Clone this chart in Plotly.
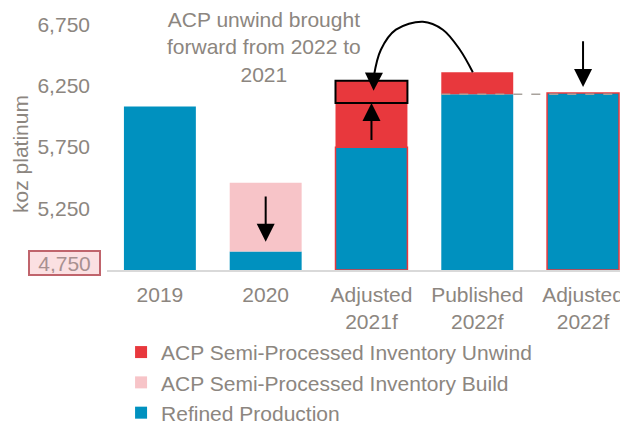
import plotly.graph_objects as go

categories = ["2019", "2020", "Adjusted<br>2021f", "Published<br>2022f", "Adjusted<br>2022f"]
refined = [6080, 4900, 5750, 6180, 6190]
build = [None, 560, None, None, None]
unwind = [None, None, 540, 180, None]
y_ticks = [5250, 5750, 6250, 6750]
y_min, y_max = 4750, 6850

BLUE = "#0091BF"
RED = "#E8383D"
PINK = "#F7C4C8"
GREY = "#8C8680"
FONT = "Liberation Sans"
BW = 0.68
xs = list(range(len(categories)))
adjusted = [c.startswith("Adjusted") for c in categories]

fig = go.Figure()
fig.add_bar(x=xs, y=[r - y_min for r in refined], base=y_min, name="Refined Production",
            marker=dict(color=BLUE,
                        line=dict(color=[RED if a else BLUE for a in adjusted],
                                  width=[1.5 if a else 0 for a in adjusted])),
            width=BW)
fig.add_bar(x=xs, y=build, base=[r if b else None for r, b in zip(refined, build)],
            name="ACP Semi-Processed Inventory Build",
            marker=dict(color=PINK, line=dict(width=0)), width=BW)
fig.add_bar(x=xs, y=unwind, base=[r if u else None for r, u in zip(refined, unwind)],
            name="ACP Semi-Processed Inventory Unwind",
            marker=dict(color=RED, line=dict(width=0)), width=BW)

# curved arrow (unwind moved from 2022 to 2021)
pub_top = refined[3] + unwind[3]
adj21_top = refined[2] + unwind[2]
box_bottom = adj21_top - unwind[3]
curve_x = [2.958, 2.836, 2.675, 2.486, 2.231, 2.089, 2.023]
curve_y = [pub_top, 6543, 6706, 6771, 6706, 6543, 6330]
fig.add_scatter(x=curve_x, y=curve_y, mode="lines", line=dict(color="black", width=2, shape="spline"),
                showlegend=False, hoverinfo="skip", cliponaxis=False)

fig.add_shape(type="rect", x0=2 - BW / 2, x1=2 + BW / 2, y0=box_bottom, y1=adj21_top,
              line=dict(color="black", width=2))
fig.add_shape(type="line", x0=3 - BW / 2, x1=4 + BW / 2, y0=refined[3], y1=refined[3],
              line=dict(color="#A8A29C", width=1.5, dash="dash"))

arrow = dict(showarrow=True, arrowhead=2, arrowsize=1.8, arrowwidth=2, arrowcolor="black",
             axref="x", ayref="y", xref="x", yref="y", text="")
fig.add_annotation(x=1, y=refined[1] + 80, ax=1, ay=refined[1] + build[1] - 100, **arrow)
fig.add_annotation(x=2, y=box_bottom, ax=2, ay=refined[2] + 45, **arrow)
fig.add_annotation(x=4, y=refined[4] + 50, ax=4, ay=6624, **arrow)
fig.add_annotation(x=2.02, y=adj21_top - 80, ax=2.023, ay=6340, **arrow)

fig.add_annotation(x=0.98, y=1, xref="x", yref="paper", yanchor="top", yshift=6, showarrow=False,
                   text="ACP unwind brought<br>forward from 2022 to<br>2021",
                   font=dict(family=FONT, size=21, color=GREY), align="center")

fig.add_annotation(x=0, y=y_min, xref="paper", yref="y", xanchor="center", yanchor="middle",
                   xshift=-42.5, yshift=7.5, showarrow=False, text="4,750",
                   font=dict(family=FONT, size=21, color="#A89090"),
                   bgcolor="#FBE0E2", bordercolor="#C0646C", borderwidth=2,
                   width=67, height=20)
fig.add_annotation(x=-0.165, y=0.45, xref="paper", yref="paper", xanchor="center", yanchor="middle",
                   textangle=-90, showarrow=False, borderpad=0,
                   text="koz platinum", font=dict(family=FONT, size=21, color=GREY))

fig.update_layout(
    width=620, height=416, margin=dict(l=99, r=0, t=4, b=154, autoexpand=False),
    paper_bgcolor="white", plot_bgcolor="white", barmode="overlay",
    font=dict(family=FONT, size=21, color=GREY),
    showlegend=True,
    legend=dict(x=0.027, y=-0.240, xanchor="left", yanchor="top", traceorder="reversed",
                font=dict(family=FONT, size=21, color=GREY), bgcolor="rgba(0,0,0,0)",
                itemclick=False),
    xaxis=dict(range=[-0.5, 4.425], tickvals=xs, ticktext=categories, showgrid=False,
               showline=True, linecolor="#D9D9D9", linewidth=1.5, ticks="", zeroline=False,
               ticklabelstandoff=5, tickfont=dict(family=FONT, size=21, color=GREY)),
    yaxis=dict(range=[y_min, y_max], tickvals=y_ticks, ticktext=[f"{v:,}" for v in y_ticks],
               showgrid=False, showline=False, zeroline=False, ticks="",
               ticklabelstandoff=16, tickfont=dict(family=FONT, size=21, color=GREY)),
)
fig.write_html("out.html")
